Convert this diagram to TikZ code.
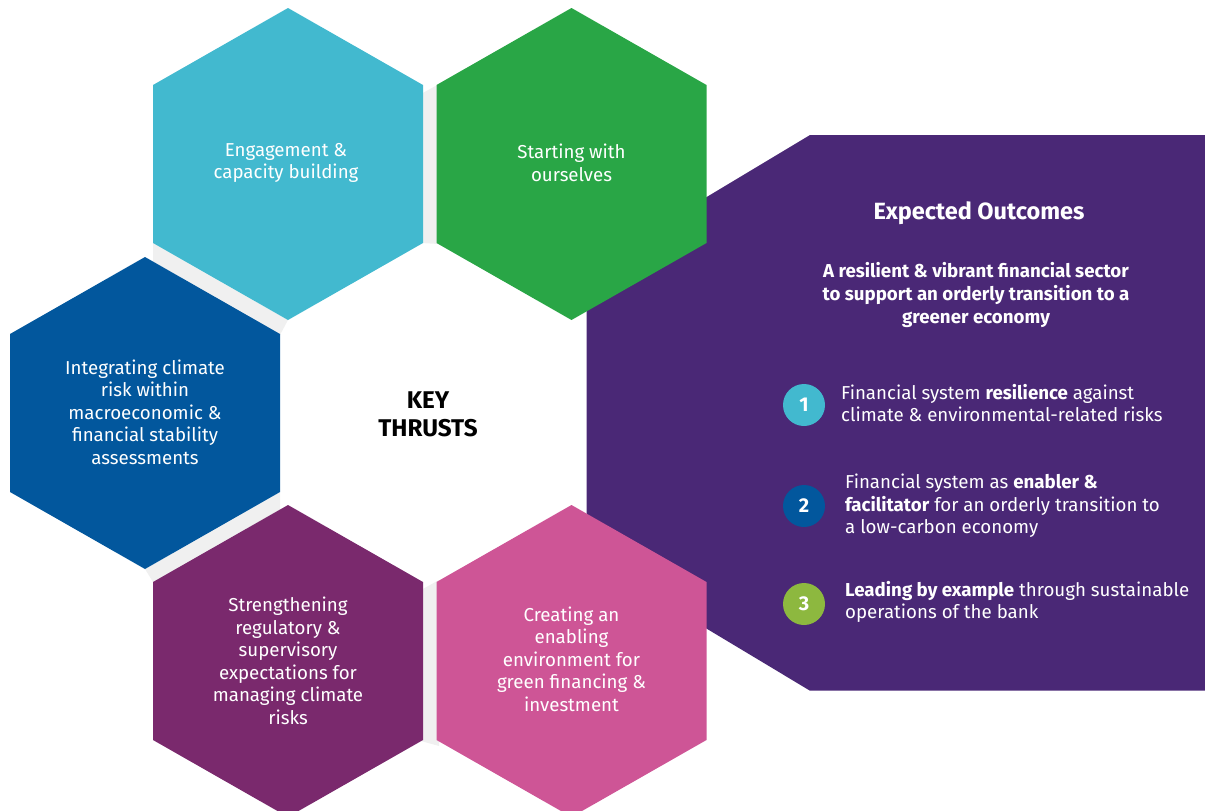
\documentclass[tikz,border=0pt]{standalone}
\usepackage{fontspec}
\setmainfont{Fira Sans}
\definecolor{hcyan}{RGB}{66,185,207}
\definecolor{hgreen}{RGB}{41,166,70}
\definecolor{hblue}{RGB}{2,87,157}
\definecolor{hplum}{RGB}{122,41,109}
\definecolor{hpink}{RGB}{206,85,150}
\definecolor{hpurple}{RGB}{74,40,118}
\definecolor{hgrey}{RGB}{240,240,240}
\definecolor{holive}{RGB}{141,184,63}
\newcommand\hexfill[3]{%
  \fill[#3] (#1,#2-156) -- (#1+135,#2-79) -- (#1+135,#2+79) -- (#1,#2+156)
    -- (#1-135,#2+79) -- (#1-135,#2-79) -- cycle;}
\tikzset{
  hextext/.style={text=white, align=center, font=\fontsize{18.7}{22.5}\selectfont, inner sep=0pt},
  itemtext/.style={text=white, align=left, anchor=west, font=\fontsize{18.7}{22.5}\selectfont, inner sep=0pt},
  numcircle/.style={circle, minimum size=42pt, inner sep=0pt, text=white, font=\bfseries\fontsize{20}{22}\selectfont},
  gapfill/.style={fill=hgrey}
}
\begin{document}
\begin{tikzpicture}[x=1pt,y=-1pt]
\useasboundingbox (0,0) rectangle (1205,811);
\clip (0,0) rectangle (1205,811);
% grey gaps
\fill[gapfill] (421,94) -- (439,84) -- (439,244) -- (421,243) -- cycle;
\fill[gapfill] (153,243) -- (288,320) -- (280,335) -- (153,262) -- cycle;
\fill[gapfill] (280,492) -- (280,510) -- (153,582) -- (145,569) -- cycle;
\fill[gapfill] (421,590) -- (439,580) -- (439,746) -- (421,741) -- cycle;
% big outcome panel
\fill[hpurple] (586.7,269) -- (810,135) -- (1205,135) -- (1205,690.7) -- (810,690.7) -- (586.7,556.7) -- cycle;
% hexagons
\hexfill{288}{164}{hcyan}
\hexfill{571.5}{164}{hgreen}
\hexfill{145}{413}{hblue}
\hexfill{288}{661}{hplum}
\hexfill{571.5}{661}{hpink}
% texts
\node[hextext] (engage) at (286,163) {Engagement \&\\capacity building};
\node[hextext] (start) at (571.5,163) {Starting with\\ourselves};
\node[hextext] (integr) at (145,412) {Integrating climate\\risk within\\macroeconomic \&\\financial stability\\assessments};
\node[hextext] (streng) at (288,661) {Strengthening\\regulatory \&\\supervisory\\expectations for\\managing climate\\risks};
\node[hextext] (create) at (571.5,659) {Creating an\\enabling\\environment for\\green financing \&\\investment};
\node[align=center, inner sep=0pt, font=\bfseries\fontsize{24.2}{28}\selectfont] (key) at (428,414) {KEY\\THRUSTS};
\node[text=white, inner sep=0pt, font=\bfseries\fontsize{23.5}{24}\selectfont] (expected) at (979,213) {Expected Outcomes};
\node[text=white, align=center, inner sep=0pt, font=\bfseries\fontsize{18.7}{23}\selectfont] (aim) at (976,295) {A resilient \& vibrant financial sector\\to support an orderly transition to a\\greener economy};
\node[numcircle, fill=hcyan] (n1) at (804,405) {1};
\node[numcircle, fill=hblue] (n2) at (804,506) {2};
\node[numcircle, fill=holive] (n3) at (804,604) {3};
\node[itemtext] (t1) at (841,403) {Financial system \textbf{resilience} against\\climate \& environmental-related risks};
\node[itemtext] (t2) at (845,506) {Financial system as \textbf{enabler \&}\\\textbf{facilitator} for an orderly transition to\\a low-carbon economy};
\node[itemtext] (t3) at (845,602) {\textbf{Leading by example} through sustainable\\operations of the bank};
\end{tikzpicture}
\end{document}
